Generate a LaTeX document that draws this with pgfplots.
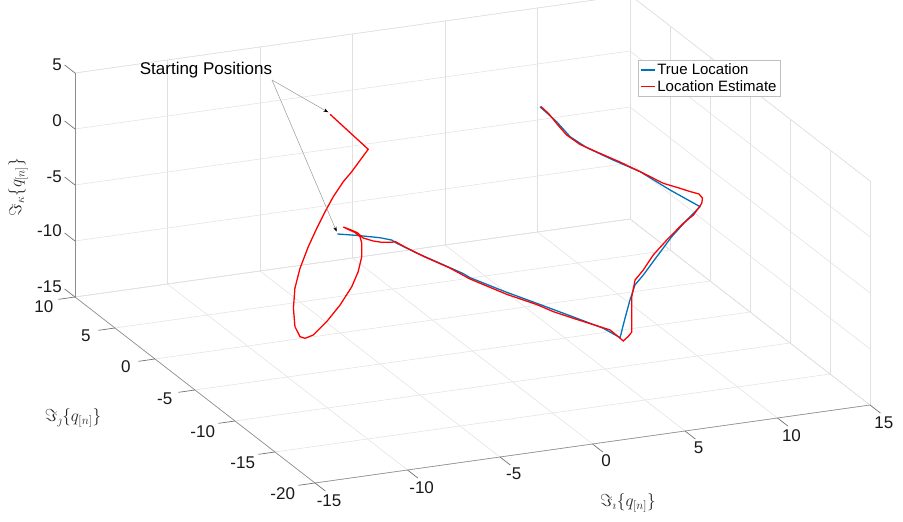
\documentclass[border=0pt]{standalone}
\usepackage[no-math]{fontspec}
\setmainfont{Liberation Sans}
\usepackage{pgfplots}
\pgfplotsset{compat=1.18}
\usetikzlibrary{arrows.meta}
\definecolor{mblue}{rgb}{0,0.447,0.741}
\begin{document}
\begin{tikzpicture}
\begin{axis}[
  x={(18.5pt,2.6pt)}, y={(-8pt,6.2pt)}, z={(0pt,11.2pt)},
  xmin=-15,xmax=15,ymin=-20,ymax=10,zmin=-15,zmax=5,
  xtick={-15,-10,...,15}, ytick={-20,-15,...,10}, ztick={-15,-10,...,5},
  /pgf/number format/assume math mode=true,
  grid=major, major grid style={black!12, line width=0.5pt},
  axis line style={black!12, line width=0.5pt},
  tick pos=left,
  tick style={draw=none},
  tick align=outside, major tick length=6pt,
  clip=false,
  ticklabel style={font=\fontsize{17}{20}\selectfont, text=black!90},
  xticklabel style={xshift=4pt, yshift=-3pt},
  yticklabel style={xshift=-15pt, yshift=3pt},
  zticklabel style={xshift=-5pt, yshift=2pt},
  legend style={at={(axis cs:11.53,0.97,5)}, anchor=north west,
    draw=black!25, line width=0.6pt, font=\fontsize{15}{17}\selectfont,
    inner sep=1.5pt, row sep=0pt, cells={anchor=west}},
  legend image code/.code={\draw[#1] (0pt,0pt) -- (14pt,0pt);},
]
\addplot3[black!45, line width=0.6pt, forget plot] coordinates {(-15,-20,-15) (15,-20,-15)};
\addplot3[black!45, line width=0.6pt, forget plot] coordinates {(-15,-20,-15) (-15,10,-15)};
\addplot3[black!45, line width=0.6pt, forget plot] coordinates {(-15,10,-15) (-15,10,5)};
\addlegendimage{mblue, line width=1.5pt}
\addlegendentry{True Location}
\addlegendimage{red, line width=1.5pt}
\addlegendentry{Location Estimate}
\addplot3[mblue, line width=1.3pt, forget plot] coordinates {
(-5.89,-1.72,-5) (-5.57,-1.94,-5) (-4.95,-2.39,-5) (-4.16,-3.05,-5) (-3.76,-3.59,-5)
(-3.72,-4.13,-5) (-3.15,-5.31,-5.35) (-2.41,-6.52,-5.77) (-1.68,-7.73,-6.19) (-1.53,-8.23,-6.31)
(-0.40,-9.77,-6.91) (0.80,-11.17,-7.51) (1.98,-12.60,-8.10) (3.16,-14.04,-8.70) (3.57,-15.19,-9)
(3.95,-14.55,-8.76) (4.55,-13.54,-8.41) (5.49,-11.99,-7.85) (6.30,-10.74,-7.39) (7.07,-10.00,-7.09)
(8.40,-8.61,-6.53) (9.86,-7.10,-5.92) (11.20,-5.89,-5.41) (12.32,-4.96,-5)
(11.31,-3.53,-4.06) (10.40,-1.89,-3.12) (9.31,-1.07,-2.29) (8.28,-0.13,-1.46) (7.82,0.88,-0.94)
(7.81,2.55,-0.52) (7.59,4.12,0)
};
\addplot3[red, line width=1.3pt, forget plot] coordinates {
(-2.46,7.11,0) (-2.12,3.13,-1) (-2.70,2.62,-1.38) (-3.57,1.84,-1.95) (-4.27,1.28,-2.37)
(-5.19,0.40,-3.01) (-6.03,-0.52,-3.64) (-6.93,-1.56,-4.34) (-7.89,-2.72,-5.12) (-8.94,-4.11,-6.04)
(-9.79,-5.44,-6.88) (-10.48,-6.85,-7.73) (-10.98,-8.20,-8.51) (-11.06,-9.02,-8.93) (-10.88,-9.23,-9)
(-10.40,-9.15,-8.86) (-9.37,-8.44,-8.30) (-8.24,-7.50,-7.60) (-7.13,-6.40,-6.83) (-6.37,-5.44,-6.20)
(-5.74,-4.43,-5.56) (-5.32,-3.46,-5) (-5.01,-2.53,-5) (-4.99,-1.86,-5) (-5.12,-1.32,-5)
(-5.20,-0.88,-5) (-5.05,-1.35,-5) (-4.90,-1.90,-5) (-4.94,-2.77,-5) (-4.66,-3.37,-5)
(-4.35,-3.71,-5) (-3.89,-3.90,-5) (-3.69,-3.85,-5) (-3.47,-4.58,-5.14) (-2.91,-5.78,-5.5)
(-2.12,-7.08,-5.95) (-1.61,-8.41,-6.31) (-0.40,-10.19,-6.97) (0.73,-11.34,-7.51) (1.26,-12.19,-7.8)
(2.02,-12.93,-8.16) (3.45,-14.22,-8.82) (3.53,-15.06,-8.97) (3.52,-15.70,-9) (3.99,-15.24,-8.96)
(4.33,-14.90,-8.83) (4.92,-13.53,-8.36) (5.70,-11.73,-7.75) (6.50,-10.29,-7.24) (7.26,-9.56,-6.93)
(8.30,-8.40,-6.47) (9.50,-7.31,-6.02) (10.91,-6.12,-5.51) (11.69,-5.58,-5.25) (12.18,-5.06,-5.05)
(12.60,-4.52,-5) (12.94,-3.82,-5) (13.00,-3.24,-4.97) (12.55,-3.17,-4.69) (12.07,-3.02,-4.37)
(11.26,-2.82,-3.85) (10.53,-2.01,-3.23) (9.64,-1.14,-2.5) (8.82,-0.54,-1.87) (8.02,0.11,-1.25)
(7.69,1.02,-0.83) (7.70,2.24,-0.53) (7.76,3.38,-0.28) (7.67,4.17,-0.03)
};
\coordinate (O) at (axis cs:-15,-20,-15);
\end{axis}
% tick marks (axis decorations, relative to the axis corner)
\foreach \k in {0,...,6} {\draw[black!55, line width=0.7pt] ([shift={(\k*92.5pt,\k*13pt)}]O) -- ++(10.4pt,-8.06pt);}
\foreach \k in {0,...,6} {\draw[black!55, line width=0.7pt] ([shift={(-\k*40pt,\k*31pt)}]O) -- ++(-16.65pt,-2.34pt);}
\foreach \k in {0,...,4} {\draw[black!55, line width=0.7pt] ([shift={(-240pt,186pt+\k*56pt)}]O) -- ++(-10.4pt,8.06pt);}
\node[font=\fontsize{17}{20}\selectfont] at ([shift={(-109pt,413pt)}]O) {Starting Positions};
\draw[black!40, line width=0.5pt, -{Stealth[black, length=5pt, width=3.5pt]}] ([shift={(-43pt,403pt)}]O) -- ([shift={(13.3pt,370.7pt)}]O);
\draw[black!40, line width=0.5pt, -{Stealth[black, length=5pt, width=3.5pt]}] ([shift={(-43pt,403pt)}]O) -- ([shift={(21.7pt,251.3pt)}]O);
\node[text=black!85, font=\fontsize{17}{20}\selectfont] at ([shift={(313pt,-20pt)}]O) {$\Im_{\imath}\{q_{[n]}\}$};
\node[text=black!85, font=\fontsize{17}{20}\selectfont] at ([shift={(-242pt,65pt)}]O) {$\Im_{\jmath}\{q_{[n]}\}$};
\node[text=black!85, rotate=90, font=\fontsize{17}{20}\selectfont] at ([shift={(-297pt,296pt)}]O) {$\Im_{\kappa}\{q_{[n]}\}$};
\pgfresetboundingbox
\path[use as bounding box] ([shift={(-315pt,-39pt)}]O) rectangle ([shift={(588pt,483pt)}]O);
\end{tikzpicture}
\end{document}
